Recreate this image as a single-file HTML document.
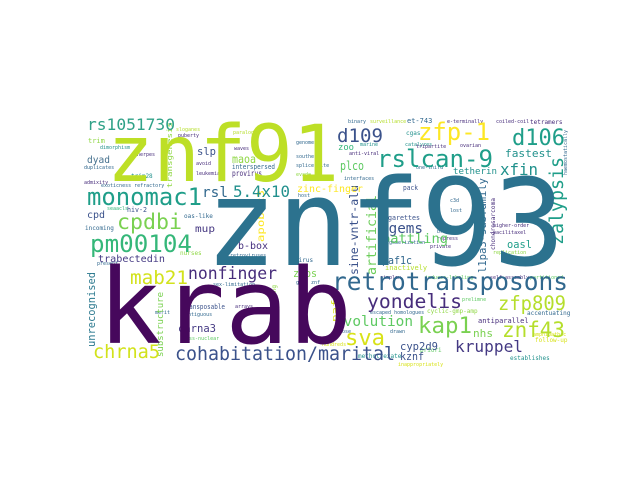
<!DOCTYPE html>
<html><head><meta charset="utf-8"><style>
html,body{margin:0;padding:0;background:#fff;width:640px;height:480px;overflow:hidden}
svg text{font-family:"DejaVu Sans Mono","Liberation Mono",monospace}
</style></head><body>
<svg width="640" height="480" viewBox="0 0 640 480">
<rect x="0" y="0" width="640" height="480" fill="#fff"/>
<!-- tiny texture words -->
<g font-size="5">
<text x="88" y="143" fill="#8fd744" font-size="7">trim</text>
<text x="100" y="149" fill="#21918c">dimorphism</text>
<text x="84" y="169" fill="#31688e">duplicates</text>
<text x="84" y="184" fill="#472d7b">admixity</text>
<text x="101" y="187" fill="#31688e">exoticness refractory</text>
<text x="107" y="210" fill="#35b779">seaacls</text>
<text x="85" y="230" fill="#31688e" font-size="6">incoming</text>
<text x="131" y="178" fill="#21918c" font-size="6">trim28</text>
<text x="184" y="218" fill="#31688e" font-size="6">oas-like</text>
<text x="176" y="131" fill="#b5de2b">sloganes</text>
<text x="178" y="137" fill="#472d7b">puberty</text>
<text x="233" y="134" fill="#b5de2b">paralogs</text>
<text x="137" y="156" fill="#472d7b">herpes</text>
<text x="196" y="165" fill="#472d7b">avoid</text>
<text x="196" y="175" fill="#472d7b">leukemia</text>
<text x="234" y="150" fill="#472d7b">waves</text>
<text x="296" y="144" fill="#31688e">genomes</text>
<text x="296" y="158" fill="#31688e">southern</text>
<text x="296" y="167" fill="#31688e">splice-site</text>
<text x="296" y="176" fill="#8fd744">evade</text>
<text x="298" y="197" fill="#31688e">host</text>
<text x="180" y="255" fill="#8fd744" font-size="6">nurses</text>
<text x="230" y="257" fill="#31688e">retroviruses</text>
<text x="295" y="262" fill="#31688e" font-size="6">virus</text>
<text x="97" y="265" fill="#31688e">present</text>
<text x="296" y="284" fill="#31688e">gaas znf</text>
<text x="213" y="286" fill="#31688e">sex-limitation</text>
<text x="155" y="314" fill="#31688e">merit</text>
<text x="182" y="316" fill="#31688e">contiguous</text>
<text x="235" y="308" fill="#472d7b">arrays</text>
<text x="180" y="340" fill="#5ec962">cross-nuclear</text>
<text x="348" y="123" fill="#31688e">binary</text>
<text x="370" y="123" fill="#b5de2b">surveillance</text>
<text x="407" y="123" fill="#31688e" font-size="7">et-743</text>
<text x="447" y="123" fill="#472d7b">e-terminally</text>
<text x="496" y="123" fill="#472d7b">coiled-coil</text>
<text x="530" y="124" fill="#472d7b" font-size="6">tetramers</text>
<text x="406" y="135" fill="#21918c" font-size="6">cgas</text>
<text x="405" y="146" fill="#21918c">catalyzes</text>
<text x="360" y="146" fill="#21918c">marine</text>
<text x="349" y="155" fill="#472d7b">anti-viral</text>
<text x="416" y="148" fill="#472d7b">tripartite</text>
<text x="460" y="147" fill="#472d7b">ovarian</text>
<text x="344" y="180" fill="#31688e">interfaces</text>
<text x="416" y="169" fill="#31688e">one-third</text>
<text x="450" y="202" fill="#31688e">c3d</text>
<text x="450" y="212" fill="#31688e">lost</text>
<text x="437" y="233" fill="#31688e">broad</text>
<text x="437" y="240" fill="#472d7b">repress</text>
<text x="493" y="227" fill="#472d7b">higher-order</text>
<text x="493" y="234" fill="#472d7b">pacilitaxel</text>
<text x="493" y="254" fill="#8fd744">replication</text>
<text x="380" y="244" fill="#31688e">oligomerization</text>
<text x="430" y="248" fill="#472d7b">private</text>
<text x="385" y="270" fill="#b5de2b" font-size="7">inactively</text>
<text x="380" y="279" fill="#472d7b">simplex</text>
<text x="425" y="279" fill="#5ec962">inducer-labeling</text>
<text x="490" y="279" fill="#472d7b">self-assembly</text>
<text x="530" y="279" fill="#5ec962">partitioned</text>
<text x="462" y="301" fill="#5ec962">prelimne</text>
<text x="370" y="314" fill="#31688e">escaped homologues</text>
<text x="427" y="313" fill="#8fd744" font-size="6">cyclic-gmp-amp</text>
<text x="527" y="315" fill="#31688e" font-size="6">accentuating</text>
<text x="478" y="323" fill="#472d7b" font-size="7">antiparallel</text>
<text x="336" y="333" fill="#31688e">arose</text>
<text x="390" y="333" fill="#31688e">drawn</text>
<text x="533" y="336" fill="#d8e219">amphipathic</text>
<text x="535" y="342" fill="#d8e219" font-size="6">follow-up</text>
<text x="322" y="346" fill="#d8e219">hundreds</text>
<text x="420" y="352" fill="#5ec962" font-size="6">priori</text>
<text x="358" y="358" fill="#21918c" font-size="6">methotrexate</text>
<text x="510" y="360" fill="#21918c" font-size="6">establishes</text>
<text x="398" y="366" fill="#d8e219">inappropriately</text>
</g>
<!-- vertical small words -->
<text transform="translate(172,188) rotate(-90)" font-size="7" fill="#8fd744" textLength="66" lengthAdjust="spacingAndGlyphs">transgenesis</text>
<text transform="translate(264,242) rotate(-90)" font-size="10" fill="#fde725" textLength="52" lengthAdjust="spacingAndGlyphs">apobec3</text>
<text transform="translate(95,347) rotate(-90)" font-size="10.4" fill="#2a788e" textLength="75" lengthAdjust="spacingAndGlyphs">unrecognised</text>
<text transform="translate(163,357) rotate(-90)" font-size="9" fill="#7ad151" textLength="65" lengthAdjust="spacingAndGlyphs">substructure</text>
<text transform="translate(276,340) rotate(-90)" font-size="6" fill="#8fd744" textLength="55" lengthAdjust="spacingAndGlyphs">underexpressing</text>
<text transform="translate(358,275) rotate(-90)" font-size="11.5" fill="#3b528b" textLength="90" lengthAdjust="spacingAndGlyphs">sine-vntr-alu</text>
<text transform="translate(376,275) rotate(-90)" font-size="13" fill="#6ccd5a" textLength="80" lengthAdjust="spacingAndGlyphs">artificial</text>
<text transform="translate(338,322) rotate(-90)" font-size="9" fill="#d8e219" textLength="30" lengthAdjust="spacingAndGlyphs">paf1</text>
<text transform="translate(486,273) rotate(-90)" font-size="10.5" fill="#31688e" textLength="95" lengthAdjust="spacingAndGlyphs">l1pa3-subfamily</text>
<text transform="translate(495,250) rotate(-90)" font-size="6" fill="#472d7b" textLength="52" lengthAdjust="spacingAndGlyphs">chondrosarcoma</text>
<text transform="translate(563,245) rotate(-90)" font-size="18.5" fill="#1f9e89" textLength="88" lengthAdjust="spacingAndGlyphs">zalypsis</text>
<text transform="translate(567,175) rotate(-90)" font-size="5" fill="#31688e" textLength="45" lengthAdjust="spacingAndGlyphs">haemostatically</text>
<!-- medium words -->
<text x="87" y="130" font-size="16.3" fill="#2fa187" textLength="88" lengthAdjust="spacingAndGlyphs">rs1051730</text>
<text x="87" y="163" font-size="10" fill="#46718e" textLength="23" lengthAdjust="spacingAndGlyphs">dyad</text>
<text x="87" y="205" font-size="24" fill="#1f9e89" textLength="115" lengthAdjust="spacingAndGlyphs">monomac1</text>
<text x="87" y="218" font-size="10" fill="#3b528b" textLength="18" lengthAdjust="spacingAndGlyphs">cpd</text>
<text x="127" y="212" font-size="7" fill="#3b528b" textLength="20" lengthAdjust="spacingAndGlyphs">hiv-2</text>
<text x="117" y="229" font-size="21.6" fill="#7ad151" textLength="65" lengthAdjust="spacingAndGlyphs">cpdbi</text>
<text x="90" y="252" font-size="24" fill="#35b779" textLength="102" lengthAdjust="spacingAndGlyphs">pm00104</text>
<text x="98" y="262" font-size="10.1" fill="#443983" textLength="67" lengthAdjust="spacingAndGlyphs">trabectedin</text>
<text x="197" y="155" font-size="11" fill="#3b528b" textLength="19" lengthAdjust="spacingAndGlyphs">slp</text>
<text x="232" y="163" font-size="11.5" fill="#8fd744" textLength="24" lengthAdjust="spacingAndGlyphs">maoa</text>
<text x="232" y="169" font-size="7" fill="#31688e" textLength="43" lengthAdjust="spacingAndGlyphs">interspersed</text>
<text x="232" y="176" font-size="8" fill="#472d7b" textLength="30" lengthAdjust="spacingAndGlyphs">provirus</text>
<text x="202" y="197" font-size="14.5" fill="#31688e" textLength="26" lengthAdjust="spacingAndGlyphs">rsl</text>
<text x="233" y="197" font-size="15.8" fill="#21908d" textLength="57" lengthAdjust="spacingAndGlyphs">5.4x10</text>
<text x="297" y="192" font-size="10" fill="#fde725" textLength="66" lengthAdjust="spacingAndGlyphs">zinc-finger</text>
<text x="195" y="232" font-size="10" fill="#453781" textLength="20" lengthAdjust="spacingAndGlyphs">mup</text>
<text x="238" y="249" font-size="10" fill="#46307e" textLength="30" lengthAdjust="spacingAndGlyphs">b-box</text>
<text x="337" y="142" font-size="19" fill="#3b528b" textLength="46" lengthAdjust="spacingAndGlyphs">d109</text>
<text x="418" y="140" font-size="24" fill="#fde725" textLength="72" lengthAdjust="spacingAndGlyphs">zfp-1</text>
<text x="512" y="145" font-size="22" fill="#1f9e89" textLength="53" lengthAdjust="spacingAndGlyphs">d106</text>
<text x="338" y="150" font-size="9" fill="#35b779" textLength="16" lengthAdjust="spacingAndGlyphs">zoo</text>
<text x="377" y="167" font-size="24" fill="#1f9e89" textLength="116" lengthAdjust="spacingAndGlyphs">rslcan-9</text>
<text x="505" y="157" font-size="11" fill="#21918c" textLength="47" lengthAdjust="spacingAndGlyphs">fastest</text>
<text x="500" y="175" font-size="16" fill="#21918c" textLength="38" lengthAdjust="spacingAndGlyphs">xfin</text>
<text x="340" y="170" font-size="12" fill="#5ec962" textLength="24" lengthAdjust="spacingAndGlyphs">plco</text>
<text x="453" y="174" font-size="9" fill="#21918c" textLength="44" lengthAdjust="spacingAndGlyphs">tetherin</text>
<text x="403" y="190" font-size="7" fill="#3b528b" textLength="15" lengthAdjust="spacingAndGlyphs">pack</text>
<text x="380" y="220" font-size="7" fill="#3b528b" textLength="40" lengthAdjust="spacingAndGlyphs">cigarettes</text>
<text x="380" y="233" font-size="14" fill="#3b528b" textLength="43" lengthAdjust="spacingAndGlyphs">cgems</text>
<text x="382" y="243" font-size="13.7" fill="#5ec962" textLength="66" lengthAdjust="spacingAndGlyphs">battling</text>
<text x="507" y="248" font-size="10.5" fill="#1f9e89" textLength="25" lengthAdjust="spacingAndGlyphs">oasl</text>
<text x="382" y="264" font-size="11" fill="#31688e" textLength="30" lengthAdjust="spacingAndGlyphs">paf1c</text>
<text x="130" y="284" font-size="19" fill="#d2e21b" textLength="58" lengthAdjust="spacingAndGlyphs">mab21</text>
<text x="188" y="279" font-size="16.5" fill="#472d7b" textLength="89" lengthAdjust="spacingAndGlyphs">nonfinger</text>
<text x="293" y="277" font-size="10.5" fill="#7ad151" textLength="24" lengthAdjust="spacingAndGlyphs">zfps</text>
<text x="182" y="309" font-size="7" fill="#3b528b" textLength="43" lengthAdjust="spacingAndGlyphs">transposable</text>
<text x="178" y="332" font-size="10.5" fill="#443983" textLength="38" lengthAdjust="spacingAndGlyphs">chrna3</text>
<text x="93" y="358" font-size="18.6" fill="#d2e21b" textLength="67" lengthAdjust="spacingAndGlyphs">chrna5</text>
<text x="175" y="360" font-size="18.3" fill="#3b528b" textLength="220" lengthAdjust="spacingAndGlyphs">cohabitation/marital</text>
<text x="332" y="290" font-size="24.5" fill="#31688e" textLength="236" lengthAdjust="spacingAndGlyphs">retrotransposons</text>
<text x="367" y="308" font-size="19.7" fill="#472d7b" textLength="95" lengthAdjust="spacingAndGlyphs">yondelis</text>
<text x="498" y="310" font-size="19.4" fill="#b5de2b" textLength="68" lengthAdjust="spacingAndGlyphs">zfp809</text>
<text x="335" y="326" font-size="14.4" fill="#5ec962" textLength="78" lengthAdjust="spacingAndGlyphs">evolution</text>
<text x="418" y="333" font-size="22.5" fill="#7ad151" textLength="54" lengthAdjust="spacingAndGlyphs">kap1</text>
<text x="473" y="337" font-size="11" fill="#7ad151" textLength="20" lengthAdjust="spacingAndGlyphs">nhs</text>
<text x="502" y="337" font-size="21" fill="#b5de2b" textLength="63" lengthAdjust="spacingAndGlyphs">znf43</text>
<text x="345" y="345" font-size="22" fill="#d8e219" textLength="40" lengthAdjust="spacingAndGlyphs">sva</text>
<text x="400" y="350" font-size="11" fill="#3b528b" textLength="38" lengthAdjust="spacingAndGlyphs">cyp2d9</text>
<text x="400" y="360" font-size="11" fill="#3b528b" textLength="24" lengthAdjust="spacingAndGlyphs">kznf</text>
<text x="455" y="352" font-size="16" fill="#443983" textLength="68" lengthAdjust="spacingAndGlyphs">kruppel</text>
<!-- big words -->
<text x="107" y="181" font-size="78" fill="#bddf26" textLength="232" lengthAdjust="spacingAndGlyphs">znf91</text>
<text x="205" y="265" font-size="120" fill="#2c728e" textLength="360" lengthAdjust="spacingAndGlyphs">znf93</text>
<text x="98" y="343" font-size="104" fill="#46085c" textLength="254" lengthAdjust="spacingAndGlyphs">krab</text>
</svg>
</body></html>
